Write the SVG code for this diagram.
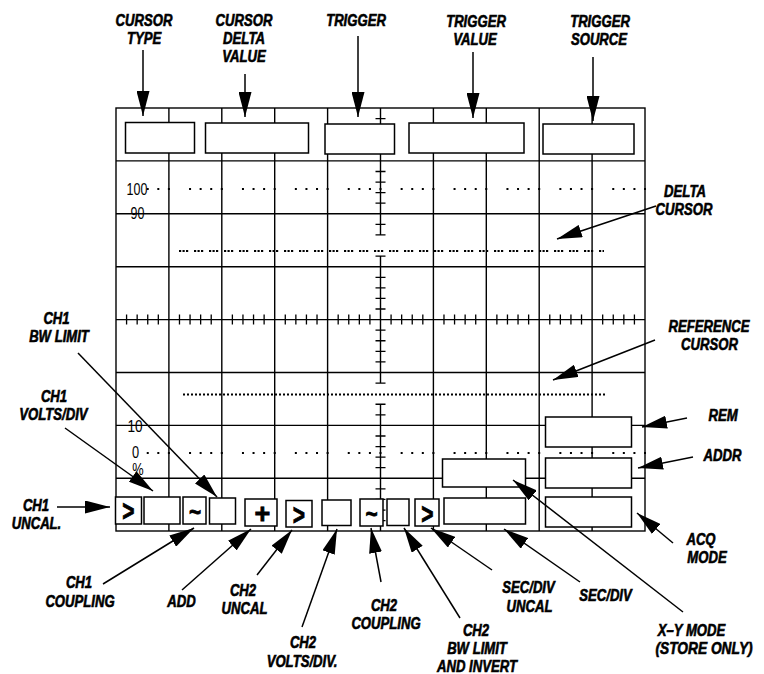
<svg xmlns="http://www.w3.org/2000/svg" width="764" height="674" viewBox="0 0 764 674">
<style>
.bg{fill:#fff}
.grid{stroke:#000;stroke-width:1.4;fill:none}
.tick{stroke:#000;stroke-width:1.3;fill:none}
.dots{stroke:#000;stroke-width:2;fill:none}
.box{fill:#fff;stroke:#000;stroke-width:1.5}
.lbl{font-family:"Liberation Sans",Arial,sans-serif;font-weight:bold;font-style:italic;font-size:16px;text-anchor:middle;fill:#000;stroke:#000;stroke-width:0.6}
.num{font-family:"Liberation Sans",Arial,sans-serif;font-size:16px;text-anchor:middle;fill:#000}
.sym{font-family:"Liberation Sans",Arial,sans-serif;font-weight:bold;text-anchor:middle;fill:#000;stroke:#000;stroke-width:0.8}
.arr{stroke:#000;stroke-width:1.5;fill:none;marker-end:url(#ah)}
</style>
<defs>
<marker id="ah" markerUnits="userSpaceOnUse" markerWidth="25" markerHeight="13" viewBox="0 0 25 13" refX="25" refY="6.5" orient="auto">
<path d="M0,0 L25,6.5 L0,13 Z" fill="#000"/>
</marker>
</defs>
<rect class="bg" x="0" y="0" width="764" height="674"/>

<g id="graticule">
<rect class="grid" x="116" y="108" width="529" height="423"/>
<path class="grid" d="M168.9 108V531M221.8 108V531M274.7 108V531M327.6 108V531M433.4 108V531M486.3 108V531M539.2 108V531M592.1 108V531"/>
<path class="grid" d="M116 160.9H645M116 213.8H645M116 266.7H645M116 319.6H645M116 372.5H645M116 425.4H645M116 478.3H645"/>
<path class="grid" d="M380.5 108V235M380.5 256.12V383.08M380.5 404.24V531"/>
<path class="tick" d="M126.58 314.6v10M137.16 314.6v10M147.74 314.6v10M158.32 314.6v10M179.48 314.6v10M190.06 314.6v10M200.64 314.6v10M211.22 314.6v10M232.38 314.6v10M242.96 314.6v10M253.54 314.6v10M264.12 314.6v10M285.28 314.6v10M295.86 314.6v10M306.44 314.6v10M317.02 314.6v10M338.18 314.6v10M348.76 314.6v10M359.34 314.6v10M369.92 314.6v10M391.08 314.6v10M401.66 314.6v10M412.24 314.6v10M422.82 314.6v10M443.98 314.6v10M454.56 314.6v10M465.14 314.6v10M475.72 314.6v10M496.88 314.6v10M507.46 314.6v10M518.04 314.6v10M528.62 314.6v10M549.78 314.6v10M560.36 314.6v10M570.94 314.6v10M581.52 314.6v10M602.68 314.6v10M613.26 314.6v10M623.84 314.6v10M634.42 314.6v10"/>
<path class="tick" d="M375.5 118.58h10M375.5 129.16h10M375.5 139.74h10M375.5 150.32h10M375.5 171.48h10M375.5 182.06h10M375.5 192.64h10M375.5 203.22h10M375.5 224.38h10M375.5 234.96h10M375.5 256.12h10M375.5 277.28h10M375.5 287.86h10M375.5 298.44h10M375.5 309.02h10M375.5 330.18h10M375.5 340.76h10M375.5 351.34h10M375.5 361.92h10M375.5 383.08h10M375.5 404.24h10M375.5 414.82h10M375.5 435.98h10M375.5 446.56h10M375.5 457.14h10M375.5 467.72h10M375.5 488.88h10M375.5 499.46h10M375.5 510.04h10M375.5 520.62h10"/>
<path class="dots" d="M146.74 189H646" stroke-dasharray="2 8.58 2 8.58 2 19.16 2 8.58"/>
<path class="dots" d="M146.74 453H646" stroke-dasharray="2 8.58 2 8.58 2 19.16 2 8.58"/>
<path class="dots" d="M179 251H604" stroke-dasharray="2.2 1.3 2.2 1.3 2.2 5.8"/>
<path class="dots" d="M183 394.5H607" stroke-dasharray="2 2"/>
<text class="num" transform="translate(137 194.5) scale(.78 1)">100</text>
<text class="num" transform="translate(137.5 219) scale(.78 1)">90</text>
<text class="num" transform="translate(135 432) scale(.85 1)">10</text>
<text class="num" transform="translate(135.5 458) scale(.8 1)">0</text>
<text class="num" transform="translate(138 474.5) scale(.8 1)">%</text>
</g>

<g id="box-cursor-type"><rect class="box" x="125.5" y="122.5" width="69" height="30.5"/></g>
<g id="box-cursor-delta-value"><rect class="box" x="205.5" y="123" width="103" height="30"/></g>
<g id="box-trigger"><rect class="box" x="325" y="124" width="69.5" height="30"/></g>
<g id="box-trigger-value"><rect class="box" x="409" y="123" width="115" height="30"/></g>
<g id="box-trigger-source"><rect class="box" x="543" y="124" width="91" height="30"/></g>

<g id="box-ch1-uncal"><rect class="box" x="115.5" y="497" width="26" height="27"/><text class="sym" font-size="30" transform="translate(128.5 521) scale(.7 1)">&gt;</text></g>
<g id="box-ch1-volts"><rect class="box" x="144" y="497" width="36" height="27"/></g>
<g id="box-ch1-coupling"><rect class="box" x="183" y="497" width="23" height="27"/><text class="sym" font-size="26" transform="translate(195 521) scale(.8 1)">~</text></g>
<g id="box-ch1-bw"><rect class="box" x="209.5" y="498" width="26" height="26"/></g>
<g id="box-add"><rect class="box" x="245" y="499" width="32" height="27"/><text class="sym" font-size="27" transform="translate(262.5 522.5)">+</text></g>
<g id="box-ch2-uncal"><rect class="box" x="286" y="500.5" width="26" height="26.5"/><text class="sym" font-size="30" transform="translate(299 524.5) scale(.7 1)">&gt;</text></g>
<g id="box-ch2-volts"><rect class="box" x="322" y="500" width="29" height="25.5"/></g>
<g id="box-ch2-coupling"><rect class="box" x="360" y="499" width="23" height="27"/><text class="sym" font-size="26" transform="translate(371.5 523) scale(.8 1)">~</text></g>
<g id="box-ch2-bw"><rect class="box" x="387" y="499" width="22" height="26.5"/></g>
<g id="box-sec-uncal"><rect class="box" x="415" y="499" width="24" height="27"/><text class="sym" font-size="30" transform="translate(427.5 523.5) scale(.7 1)">&gt;</text></g>
<g id="box-sec-div"><rect class="box" x="444" y="498" width="81.5" height="26"/></g>
<g id="box-xy"><rect class="box" x="442.5" y="459" width="83" height="28"/></g>
<g id="box-rem"><rect class="box" x="545.5" y="417" width="86" height="30"/></g>
<g id="box-addr"><rect class="box" x="545.5" y="458" width="86" height="30"/></g>
<g id="box-acq"><rect class="box" x="545.5" y="497" width="86" height="30"/></g>

<g id="label-cursor-type"><text class="lbl" transform="translate(144 26) scale(.82 1)">CURSOR</text><text class="lbl" transform="translate(144 44) scale(.82 1)">TYPE</text></g>
<g id="label-cursor-delta-value"><text class="lbl" transform="translate(244 26) scale(.82 1)">CURSOR</text><text class="lbl" transform="translate(244 44) scale(.82 1)">DELTA</text><text class="lbl" transform="translate(244 62) scale(.82 1)">VALUE</text></g>
<g id="label-trigger"><text class="lbl" transform="translate(356 26) scale(.82 1)">TRIGGER</text></g>
<g id="label-trigger-value"><text class="lbl" transform="translate(476 26.5) scale(.82 1)">TRIGGER</text><text class="lbl" transform="translate(475 45) scale(.82 1)">VALUE</text></g>
<g id="label-trigger-source"><text class="lbl" transform="translate(600 26.5) scale(.82 1)">TRIGGER</text><text class="lbl" transform="translate(599 45) scale(.82 1)">SOURCE</text></g>
<g id="label-delta-cursor"><text class="lbl" transform="translate(685 197) scale(.82 1)">DELTA</text><text class="lbl" transform="translate(684 215) scale(.82 1)">CURSOR</text></g>
<g id="label-reference-cursor"><text class="lbl" transform="translate(709 332) scale(.82 1)">REFERENCE</text><text class="lbl" transform="translate(709.5 350) scale(.82 1)">CURSOR</text></g>
<g id="label-rem"><text class="lbl" transform="translate(723 421) scale(.82 1)">REM</text></g>
<g id="label-addr"><text class="lbl" transform="translate(722.5 461) scale(.82 1)">ADDR</text></g>
<g id="label-acq-mode"><text class="lbl" transform="translate(701 545) scale(.82 1)">ACQ</text><text class="lbl" transform="translate(707 563) scale(.82 1)">MODE</text></g>
<g id="label-xy-mode"><text class="lbl" transform="translate(691.5 636) scale(.82 1)">X–Y MODE</text><text class="lbl" transform="translate(704 654) scale(.86 1)">(STORE ONLY)</text></g>
<g id="label-sec-div"><text class="lbl" transform="translate(605.5 601) scale(.82 1)">SEC/DIV</text></g>
<g id="label-sec-div-uncal"><text class="lbl" transform="translate(528.5 593) scale(.82 1)">SEC/DIV</text><text class="lbl" transform="translate(529.5 612) scale(.82 1)">UNCAL</text></g>
<g id="label-ch2-bw"><text class="lbl" transform="translate(476 636) scale(.82 1)">CH2</text><text class="lbl" transform="translate(477 654) scale(.82 1)">BW LIMIT</text><text class="lbl" transform="translate(477 672) scale(.82 1)">AND INVERT</text></g>
<g id="label-ch2-coupling"><text class="lbl" transform="translate(384 611) scale(.82 1)">CH2</text><text class="lbl" transform="translate(386 629) scale(.82 1)">COUPLING</text></g>
<g id="label-ch2-volts"><text class="lbl" transform="translate(303 648) scale(.82 1)">CH2</text><text class="lbl" transform="translate(302 667) scale(.82 1)">VOLTS/DIV.</text></g>
<g id="label-ch2-uncal"><text class="lbl" transform="translate(243 596) scale(.82 1)">CH2</text><text class="lbl" transform="translate(244.5 614) scale(.82 1)">UNCAL</text></g>
<g id="label-add"><text class="lbl" transform="translate(181.5 607) scale(.82 1)">ADD</text></g>
<g id="label-ch1-coupling"><text class="lbl" transform="translate(79 588) scale(.82 1)">CH1</text><text class="lbl" transform="translate(80 607) scale(.82 1)">COUPLING</text></g>
<g id="label-ch1-uncal"><text class="lbl" transform="translate(36 510.5) scale(.82 1)">CH1</text><text class="lbl" transform="translate(36.5 528.5) scale(.82 1)">UNCAL.</text></g>
<g id="label-ch1-volts"><text class="lbl" transform="translate(54 402) scale(.82 1)">CH1</text><text class="lbl" transform="translate(53.5 420) scale(.82 1)">VOLTS/DIV</text></g>
<g id="label-ch1-bw"><text class="lbl" transform="translate(56.5 324) scale(.82 1)">CH1</text><text class="lbl" transform="translate(59 342) scale(.82 1)">BW LIMIT</text></g>

<g id="connectors">
<path class="arr" d="M143 50V116"/>
<path class="arr" d="M245 74V117"/>
<path class="arr" d="M358 36V117"/>
<path class="arr" d="M473 52V118"/>
<path class="arr" d="M593 57V121"/>
<path class="arr" d="M656 206L557 239"/>
<path class="arr" d="M655 340L553 380"/>
<path class="arr" d="M687 418L642 427"/>
<path class="arr" d="M693 457L638 468"/>
<path class="arr" d="M673 543L637 513"/>
<path class="arr" d="M683 612L513 480"/>
<path class="arr" d="M580 582L504 529"/>
<path class="arr" d="M492 570L431 528"/>
<path class="arr" d="M460 618L404 528"/>
<path class="arr" d="M381 582L371 528"/>
<path class="arr" d="M302 627L337 529"/>
<path class="arr" d="M257 575L292 530"/>
<path class="arr" d="M182 590L251 529"/>
<path class="arr" d="M103 584L194 528"/>
<path class="arr" d="M57 507H110"/>
<path class="arr" d="M65 428L153 491"/>
<path class="arr" d="M78 353L217 497"/>
</g>
</svg>
